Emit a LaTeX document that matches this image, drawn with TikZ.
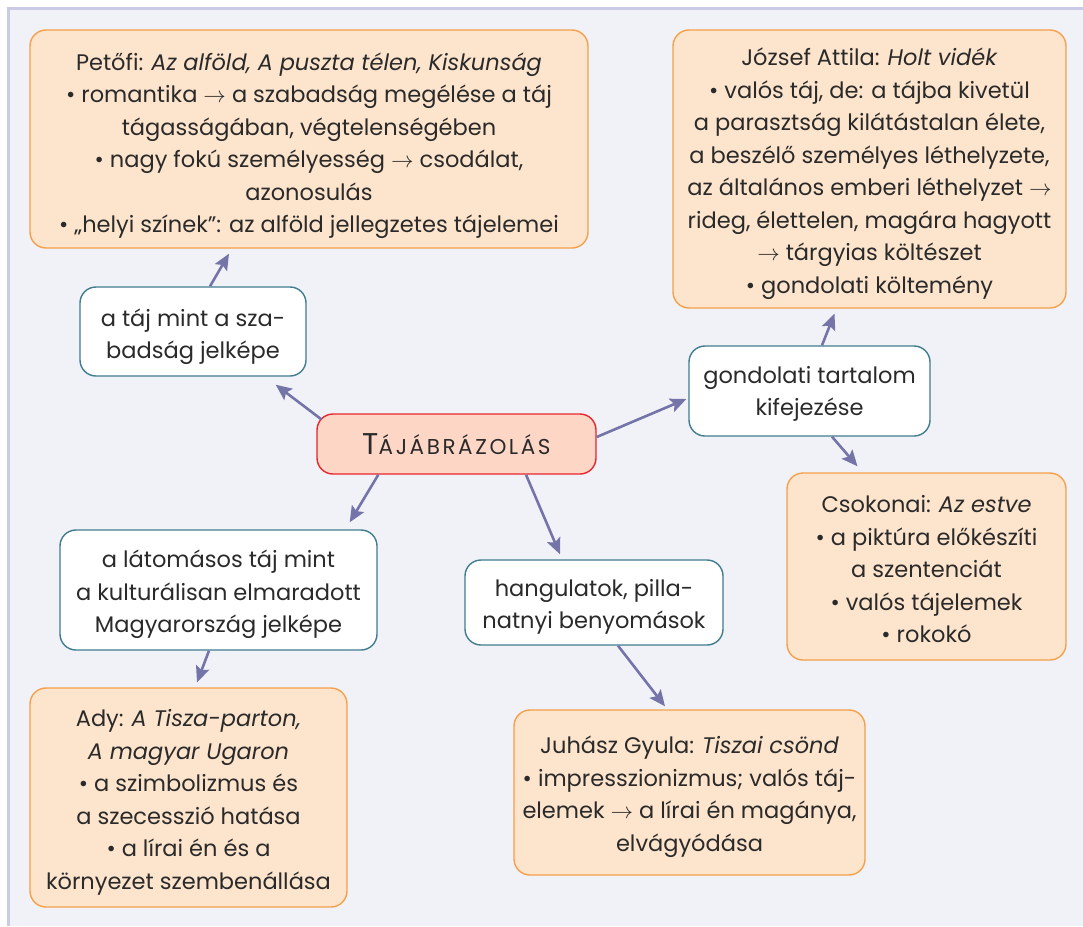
\documentclass[tikz,border=0pt]{standalone}
\usepackage{fix-cm}
\usepackage{fontspec}
\setmainfont{Poppins}
\usetikzlibrary{arrows.meta,calc}
\definecolor{bgc}{HTML}{F1F2F8}
\definecolor{edgec}{HTML}{C9CAE6}
\definecolor{ofill}{HTML}{FDE4CC}
\definecolor{odraw}{HTML}{F5A04A}
\definecolor{wdraw}{HTML}{3F7C8E}
\definecolor{cfill}{HTML}{FDD6C6}
\definecolor{cdraw}{HTML}{E8262E}
\definecolor{arrc}{HTML}{7474A8}
\definecolor{txt}{HTML}{2A2A2A}
\newcommand{\ra}{$\rightarrow$}
\tikzset{
  base/.style={rounded corners=16pt, line width=1.4pt, inner sep=0pt},
  obox/.style={base, draw=odraw, fill=ofill},
  wbox/.style={base, draw=wdraw, fill=white},
  cbox/.style={base, draw=cdraw, fill=cfill},
  tx/.style={inner sep=0pt, align=center, text=txt, font=\fontsize{22.5}{32.5}\selectfont},
  arr/.style={draw=arrc, line width=2.6pt, -{Stealth[length=16pt,width=14pt,inset=3pt]}}
}
\begin{document}
\begin{tikzpicture}[x=1pt,y=-1pt]
\useasboundingbox (0,0) rectangle (1083,926);
\fill[white] (0,0) rectangle (1083,926);
\fill[bgc] (7,7) rectangle (1083,926);
\draw[edgec, line width=3pt] (8.5,926) -- (8.5,8.5) -- (1083,8.5);

% boxes
\node[obox, minimum width=558pt, minimum height=218pt] (petofi) at (309,139) {};
\node[obox, minimum width=393pt, minimum height=278pt] (jozsef) at (869.5,169) {};
\node[wbox, minimum width=226pt, minimum height=89pt] (taj) at (193,331.5) {};
\node[cbox, minimum width=279pt, minimum height=60pt] (center) at (456.5,444) {};
\node[wbox, minimum width=241pt, minimum height=90pt] (gond) at (809.5,391) {};
\node[obox, minimum width=279pt, minimum height=187pt] (csok) at (926.5,566.5) {};
\node[wbox, minimum width=317pt, minimum height=120pt] (lato) at (218.5,590) {};
\node[wbox, minimum width=258pt, minimum height=85pt] (hang) at (594,602.5) {};
\node[obox, minimum width=317pt, minimum height=219pt] (ady) at (188.5,797.5) {};
\node[obox, minimum width=351pt, minimum height=165pt] (juhasz) at (689.5,792.5) {};

% texts
\node[tx] (petofi-t) at (309,145.5)
  {Petőfi: \textit{Az alföld, A puszta télen, Kiskunság}\\
   • romantika \ra{} a szabadság megélése a táj\\
   tágasságában, végtelenségében\\
   • nagy fokú személyesség \ra{} csodálat,\\
   azonosulás\\
   • „helyi színek”: az alföld jellegzetes tájelemei};

\node[tx] (jozsef-t) at (869.5,173.5)
  {József Attila: \textit{Holt vidék}\\
   • valós táj, de: a tájba kivetül\\
   a parasztság kilátástalan élete,\\
   a beszélő személyes léthelyzete,\\
   az általános emberi léthelyzet \ra\\
   rideg, élettelen, magára hagyott\\
   \ra{} tárgyias költészet\\
   • gondolati költemény};

\node[tx] (taj-t) at (193,336.5) {a táj mint a sza-\\badság jelképe};

\node[tx] (center-t) at (456.5,444)
  {\addfontfeature{LetterSpace=12}{\fontsize{30}{36}\selectfont T}{\fontsize{21.5}{36}\selectfont ÁJÁBRÁZOLÁS}};

\node[tx] (gond-t) at (809.5,394) {gondolati tartalom\\kifejezése};

\node[tx] (csok-t) at (926.5,569.5)
  {Csokonai: \textit{Az estve}\\
   • a piktúra előkészíti\\
   a szentenciát\\
   • valós tájelemek\\
   • rokokó};

\node[tx] (lato-t) at (218.5,594.5)
  {a látomásos táj mint\\a kulturálisan elmaradott\\Magyarország jelképe};

\node[tx] (hang-t) at (594,607) {hangulatok, pilla-\\natnyi benyomások};

\node[tx] (ady-t) at (188.5,802.5)
  {Ady: \textit{A Tisza-parton,}\\
   \textit{A magyar Ugaron}\\
   • a szimbolizmus és\\
   a szecesszió hatása\\
   • a lírai én és a\\
   környezet szembenállása};

\node[tx] (juhasz-t) at (689.5,796.5)
  {Juhász Gyula: \textit{Tiszai csönd}\\
   • impresszionizmus; valós táj-\\
   elemek \ra{} a lírai én magánya,\\
   elvágyódása};

% connectors
\draw[arr] ($(center.north west)+(5,6)$) -- ($(taj.south east)+(-31,8)$);
\draw[arr] ($(taj.north)+(17,0)$) -- ($(petofi.south)+(-80,5)$);
\draw[arr] ($(center.east)+(0,-7)$) -- ($(gond.west)+(-2,8)$);
\draw[arr] ($(gond.north)+(12.5,0)$) -- ($(jozsef.south)+(-35,5)$);
\draw[arr] ($(gond.south)+(22.5,0)$) -- ($(csok.north)+(-69,-6)$);
\draw[arr] ($(center.south west)+(62,0)$) -- ($(lato.north east)+(-28,-7)$);
\draw[arr] ($(center.south)+(69.5,0)$) -- ($(hang.north)+(-34,-5)$);
\draw[arr] ($(lato.south)+(-9.5,0)$) -- ($(ady.north)+(8.5,-5)$);
\draw[arr] ($(hang.south)+(24,0)$) -- ($(juhasz.north)+(-24.5,-3)$);
\end{tikzpicture}
\end{document}
